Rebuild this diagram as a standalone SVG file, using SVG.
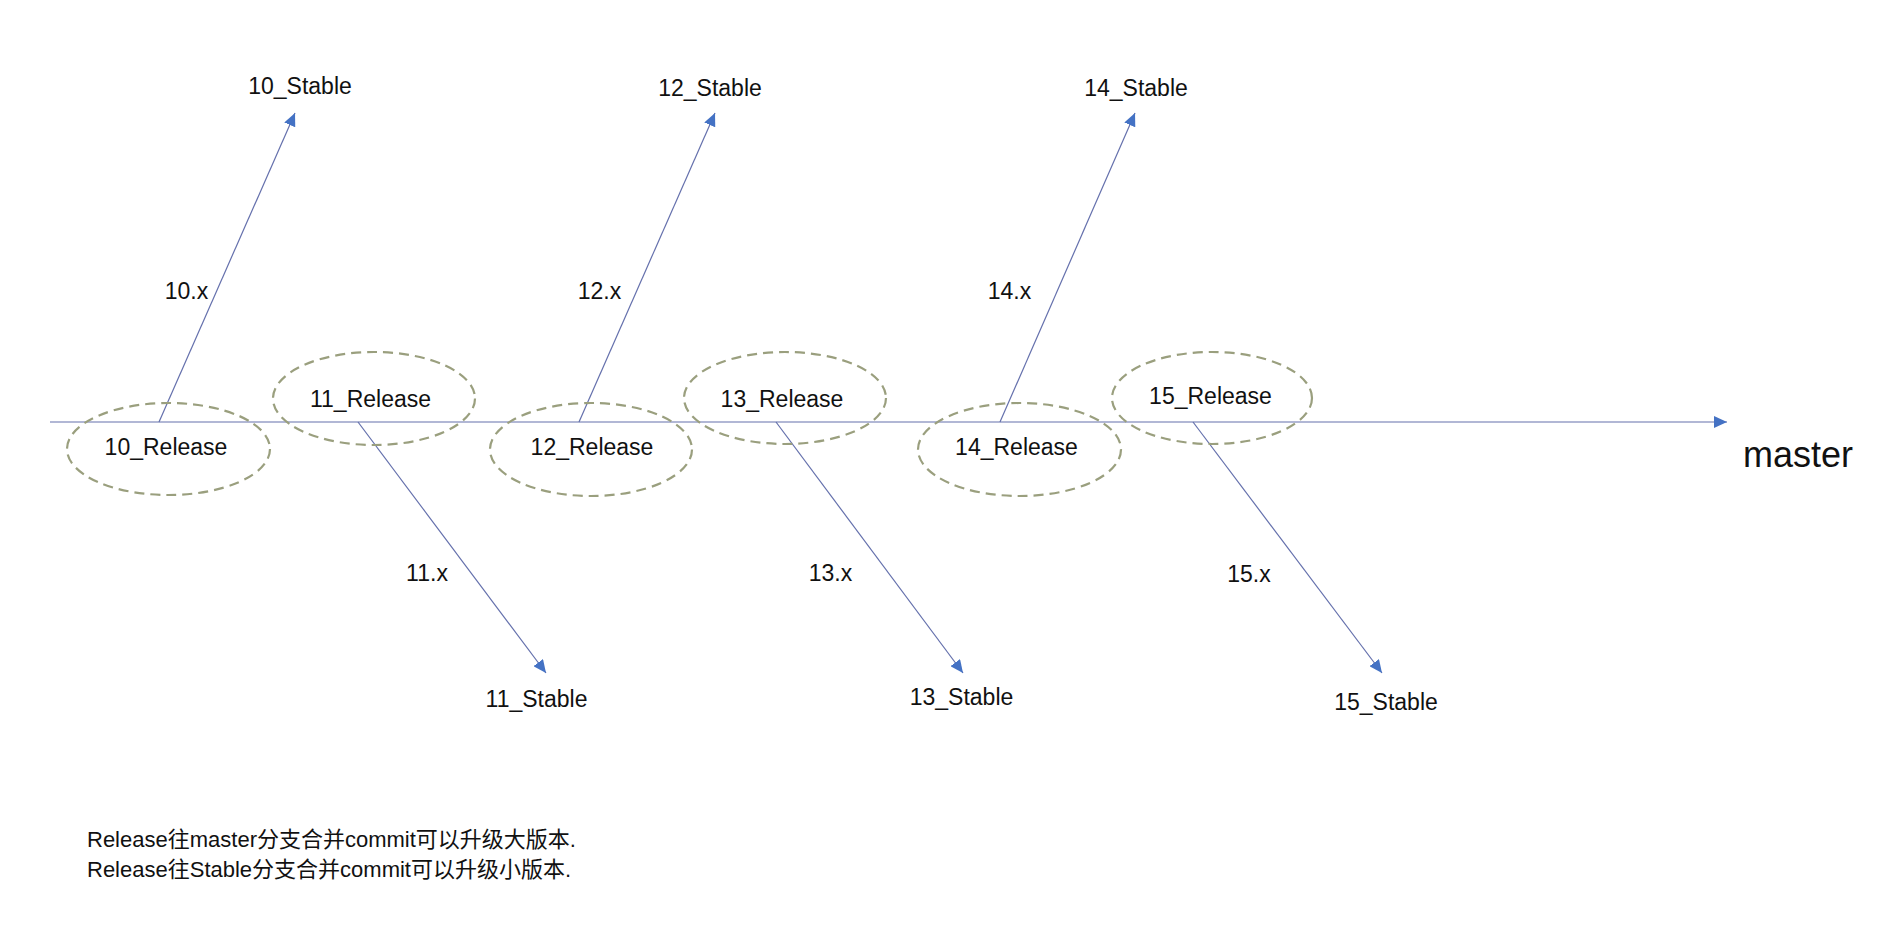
<svg xmlns="http://www.w3.org/2000/svg" width="1896" height="940" viewBox="0 0 1896 940">
<style>
.lbl{font-family:"Liberation Sans","Noto Sans CJK SC",sans-serif;font-size:23px;fill:#111;text-anchor:middle}
.note{font-family:"Liberation Sans","Noto Sans CJK SC",sans-serif;font-size:22px;fill:#111}
.rel{fill:none;stroke:#9a9f7e;stroke-width:2.2;stroke-dasharray:10 6}
.ln{stroke:#6470ac;stroke-width:1.2;fill:none}
</style>
<defs>
<marker id="arr" markerUnits="userSpaceOnUse" markerWidth="14" markerHeight="12" refX="13" refY="6" orient="auto">
<path d="M0,0 L13,6 L0,12 z" fill="#4472c4"/>
</marker>
</defs>
<rect width="1896" height="940" fill="#ffffff"/>
<g id="connectors">
<line class="ln" x1="50" y1="422" x2="1727" y2="422" marker-end="url(#arr)"/>
<line class="ln" x1="159" y1="422" x2="295" y2="113" marker-end="url(#arr)"/>
<line class="ln" x1="579" y1="422" x2="715" y2="113" marker-end="url(#arr)"/>
<line class="ln" x1="1000" y1="422" x2="1135" y2="113" marker-end="url(#arr)"/>
<line class="ln" x1="358" y1="422" x2="546" y2="673" marker-end="url(#arr)"/>
<line class="ln" x1="776" y1="422" x2="963" y2="673" marker-end="url(#arr)"/>
<line class="ln" x1="1193" y1="422" x2="1382" y2="673" marker-end="url(#arr)"/>
</g>
<g id="r10"><ellipse class="rel" cx="168.5" cy="449" rx="101.5" ry="46"/><text class="lbl" x="166" y="455">10_Release</text></g>
<g id="r11"><ellipse class="rel" cx="374" cy="398.5" rx="101" ry="46.5"/><text class="lbl" x="370.5" y="407">11_Release</text></g>
<g id="r12"><ellipse class="rel" cx="591" cy="449.5" rx="101" ry="46.5"/><text class="lbl" x="592" y="455">12_Release</text></g>
<g id="r13"><ellipse class="rel" cx="785" cy="398" rx="101" ry="46"/><text class="lbl" x="782" y="407">13_Release</text></g>
<g id="r14"><ellipse class="rel" cx="1019.5" cy="449.5" rx="101.5" ry="46.5"/><text class="lbl" x="1016.5" y="455">14_Release</text></g>
<g id="r15"><ellipse class="rel" cx="1212" cy="398" rx="100" ry="46"/><text class="lbl" x="1210.5" y="404">15_Release</text></g>
<g id="s10"><text class="lbl" x="300" y="94">10_Stable</text></g>
<g id="s12"><text class="lbl" x="710" y="96">12_Stable</text></g>
<g id="s14"><text class="lbl" x="1136" y="96">14_Stable</text></g>
<g id="s11"><text class="lbl" x="536.5" y="707">11_Stable</text></g>
<g id="s13"><text class="lbl" x="961.5" y="705">13_Stable</text></g>
<g id="s15"><text class="lbl" x="1386" y="710">15_Stable</text></g>
<g id="branch-labels">
<text class="lbl" x="186.5" y="299">10.x</text>
<text class="lbl" x="599.5" y="299">12.x</text>
<text class="lbl" x="1009.5" y="299">14.x</text>
<text class="lbl" x="427" y="581">11.x</text>
<text class="lbl" x="830.5" y="581">13.x</text>
<text class="lbl" x="1249" y="582">15.x</text>
</g>
<g id="master"><text x="1743" y="467" style="font-family:'Liberation Sans',sans-serif;font-size:36px;fill:#111">master</text></g>
<g id="notes">
<text class="note" x="87" y="847">Release往master分支合并commit可以升级大版本.</text>
<text class="note" x="87" y="877">Release往Stable分支合并commit可以升级小版本.</text>
</g>
</svg>
